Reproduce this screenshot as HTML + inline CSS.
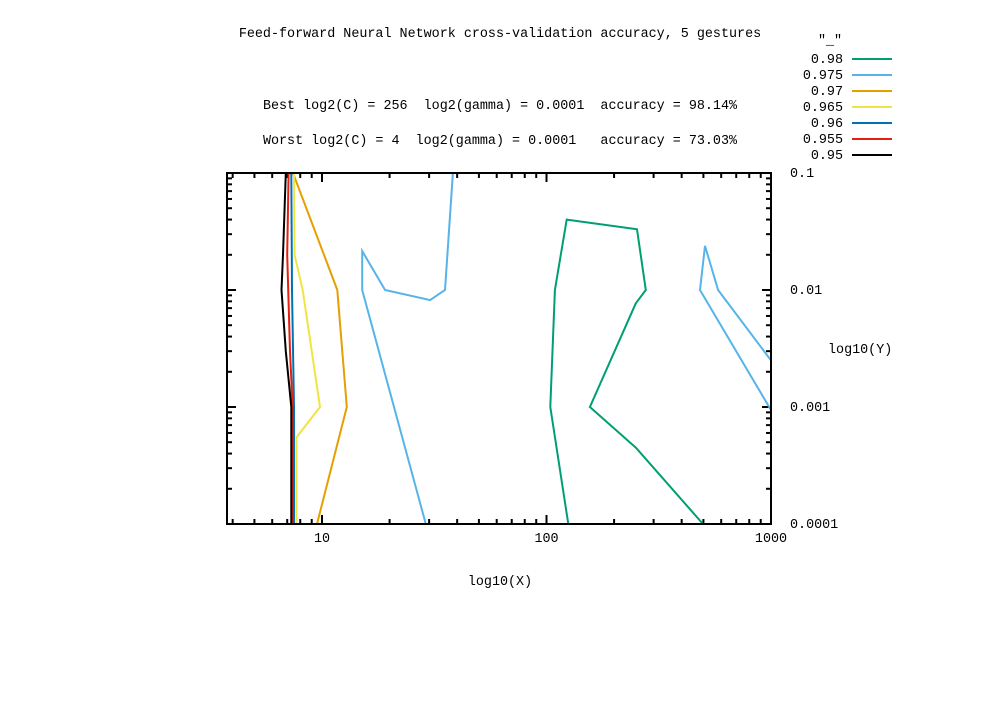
<!DOCTYPE html>
<html><head><meta charset="utf-8"><style>
body{margin:0;background:#fff}
svg text{font-family:"Liberation Mono",monospace;font-size:13.4px;fill:#000}
</style></head><body>
<svg id="chart" width="1000" height="700" xmlns="http://www.w3.org/2000/svg">
<rect width="1000" height="700" fill="#fff"/>
<text x="500" y="37" text-anchor="middle">Feed-forward Neural Network cross-validation accuracy, 5 gestures</text>
<text x="500" y="109" text-anchor="middle" xml:space="preserve">Best log2(C) = 256  log2(gamma) = 0.0001  accuracy = 98.14%</text>
<text x="500" y="144" text-anchor="middle" xml:space="preserve">Worst log2(C) = 4  log2(gamma) = 0.0001   accuracy = 73.03%</text>
<text x="500" y="585" text-anchor="middle">log10(X)</text>
<text x="828" y="353">log10(Y)</text>
<text x="830" y="44" text-anchor="middle">"_"</text>
<g id="plot"></g>
</svg>
<script>
const levels=["0.98","0.975","0.97","0.965","0.96","0.955","0.95"];
const colors=["#009e73","#56b4e9","#e69f00","#f0e442","#0072b2","#e51e10","#000000"];
const xTicks=[10,100,1000];
const yTicks=[0.1,0.01,0.001,0.0001];
const yTickLabels=["0.1","0.01","0.001","0.0001"];
const c098=[[125,1e-4],[104,1e-3],[109,0.01],[123,0.04],[253,0.033],[277,0.01],[250,0.0077],[156,0.001],[250,0.00045],[498,1e-4]];
const c0975a=[[29,1e-4],[15.1,0.01],[15.1,0.0215],[19.1,0.01],[30.3,0.0082],[35.3,0.01],[38.3,0.1]];
const c0975b=[[1000,0.00094],[483,0.01],[508,0.0238],[581,0.01],[1000,0.0025]];
const c097=[[7.43,0.1],[11.7,0.01],[12.9,0.001],[9.5,1e-4]];
const c0965=[[7.5,0.1],[7.55,0.02],[8.2,0.01],[9.8,0.001],[7.7,0.00055],[7.7,1e-4]];
const c096=[[7.3,0.1],[7.35,0.01],[7.5,0.001],[7.5,1e-4]];
const c0955=[[7.1,0.1],[7.0,0.02],[7.2,0.003],[7.4,0.001],[7.35,1e-4]];
const c095=[[6.9,0.1],[6.7,0.02],[6.6,0.01],[6.9,0.003],[7.3,0.001],[7.3,1e-4]];
const series=[[c098],[c0975a,c0975b],[c097],[c0965],[c096],[c0955],[c095]];

const L=227,R=771,T=173,B=524;
const xMin=Math.pow(10,1-(322-L)/224.5), xMax=1000, yMin=1e-4, yMax=0.1;
const X=v=>L+(Math.log10(v)-Math.log10(xMin))/(Math.log10(xMax)-Math.log10(xMin))*(R-L);
const Y=v=>B-(Math.log10(v)-Math.log10(yMin))/(Math.log10(yMax)-Math.log10(yMin))*(B-T);
const NS="http://www.w3.org/2000/svg";
const g=document.getElementById('plot');
function mk(t,a){const e=document.createElementNS(NS,t);for(const k in a)e.setAttribute(k,a[k]);g.appendChild(e);return e;}

for(let d=0;d<4;d++){for(let m=1;m<10;m++){const v=m*Math.pow(10,d);if(v<xMin||v>xMax)continue;const x=X(v);const len=m===1?9:5;
 const t1=mk('line',{x1:x,x2:x,y1:B,y2:B-len,stroke:'#000','stroke-width':2});
 
 
 const t2=mk('line',{x1:x,x2:x,y1:T,y2:T+len,stroke:'#000','stroke-width':2});
 
 }}
for(let d=-4;d<-1;d++){for(let m=1;m<=10;m++){const v=m*Math.pow(10,d);if(v<yMin*0.999||v>yMax*1.001)continue;const y=Y(v);const len=(m===1||m===10)?9:5;
 const t1=mk('line',{x1:L,x2:L+len,y1:y,y2:y,stroke:'#000','stroke-width':2});
 
 
 const t2=mk('line',{x1:R,x2:R-len,y1:y,y2:y,stroke:'#000','stroke-width':2});
 
 }}
xTicks.forEach(v=>{const t=mk('text',{x:X(v),y:542,'text-anchor':'middle'});t.textContent=String(v);
 
 });
yTicks.forEach((v,i)=>{const t=mk('text',{x:790,y:Y(v)+4});t.textContent=yTickLabels[i];
 
 });

series.forEach((parts,i)=>parts.forEach(p=>{const e=mk('polyline',{points:p.map(q=>X(q[0]).toFixed(1)+','+Y(q[1]).toFixed(1)).join(' '),fill:'none',stroke:colors[i],'stroke-width':2});
 
 }));

const frame=mk('rect',{x:L,y:T,width:R-L,height:B-T,fill:'none',stroke:'#000','stroke-width':2});



levels.forEach((lv,i)=>{const y=59+i*16;
 const t=mk('text',{x:843,y:y+4,'text-anchor':'end'});t.textContent=lv;
 
 
 const l=mk('line',{x1:852,x2:892,y1:y,y2:y,stroke:colors[i],'stroke-width':2});
 
 });
</script>
</body></html>
